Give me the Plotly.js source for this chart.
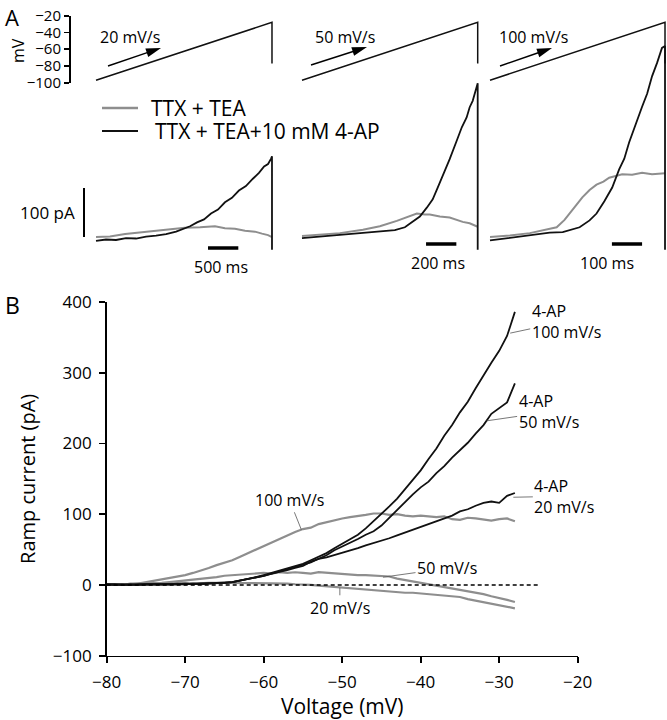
<!DOCTYPE html>
<html>
<head>
<meta charset="utf-8">
<script src="https://cdn.plot.ly/plotly-3.0.1.min.js"></script>
<style>body{margin:0;background:#fff}</style>
</head>
<body>
<div id="chart" style="width:667px;height:720px"></div>
<script>
// Panel B: ramp current (pA) against voltage (mV)
const voltage = [-80, -79, -78, -77, -76, -75, -74, -73, -72, -71, -70, -69, -68, -67, -66, -65, -64, -63, -62, -61,
  -60, -59, -58, -57, -56, -55, -54, -53, -52, -51, -50, -49, -48, -47, -46, -45, -44, -43, -42, -41,
  -40, -39, -38, -37, -36, -35, -34, -33, -32, -31, -30, -29, -28];
const tea100 = [0, 1, 0, 2, 2, 4, 5, 8, 9, 11, 14, 17, 20, 24, 28, 31, 35, 40, 45, 50,
  55, 60, 66, 70, 75, 79, 81, 86, 89, 92, 94, 96, 97, 99, 101, 101, 99, 100, 98, 97,
  98, 97, 96, 97, 93, 92, 95, 94, 93, 91, 93, 94, 90];
const tea50 = [0, 0, 1, 1, 2, 2, 3, 3, 4, 5, 6, 7, 9, 10, 11, 13, 14, 15, 16, 16,
  17, 16, 18, 17, 18, 17, 16, 18, 17, 16, 16, 15, 14, 14, 13, 12, 12, 9, 7, 5,
  3, 2, -1, -3, -4, -6, -8, -11, -13, -16, -18, -21, -24];
const tea20 = [0, 1, 0, 1, 1, 1, 2, 1, 2, 2, 3, 2, 3, 3, 3, 4, 3, 3, 3, 3,
  3, 2, 2, 2, 1, 1, 0, -1, -2, -2, -3, -4, -5, -6, -7, -8, -9, -10, -11, -11,
  -12, -12, -13, -15, -16, -17, -20, -22, -24, -27, -29, -31, -33];
const ap100 = [0, 1, 0, 0, 1, 0, 1, 1, 1, 1, 1, 2, 1, 2, 2, 3, 4, 6, 8, 11,
  14, 17, 20, 23, 27, 30, 35, 40, 45, 52, 58, 64, 71, 80, 90, 100, 111, 122, 135, 148,
  162, 178, 193, 211, 226, 244, 259, 278, 297, 314, 331, 352, 386];
const ap50 = [1, 0, 0, 1, 0, 1, 1, 0, 1, 1, 2, 1, 2, 2, 2, 3, 4, 6, 8, 11,
  13, 16, 19, 22, 25, 28, 32, 37, 42, 49, 54, 59, 65, 71, 76, 84, 95, 106, 118, 128,
  138, 146, 158, 168, 180, 191, 201, 214, 226, 242, 250, 258, 285];
const ap20 = [1, 0, 1, 0, 1, 1, 0, 1, 1, 2, 1, 2, 2, 2, 3, 3, 4, 6, 8, 11,
  13, 16, 18, 21, 24, 27, 33, 37, 39, 42, 45, 49, 52, 56, 59, 62, 66, 70, 74, 78,
  82, 85, 89, 93, 98, 104, 107, 112, 116, 118, 116, 126, 130];

// Panel A: command ramps (mV) and currents (pA) against time (ms)
const rampV = [-97, -28, -77];
const rampT20 = [0, 2900, 2900];
const rampT50 = [0, 1160, 1160];
const rampT100 = [0, 580, 580];

const t20black = [0, 165, 330, 495, 660, 825, 990, 1155, 1320, 1435, 1550, 1665, 1780, 1895, 2010, 2125, 2240, 2355, 2470, 2585, 2685, 2770, 2835, 2885, 2900, 2900];
const i20black = [-2, 1, 0, 4, 3, 7, 9, 12, 17, 22, 28, 36, 42, 54, 62, 77, 86, 101, 110, 125, 137, 150, 155, 166, 171, -20];
const t20gray = [0, 230, 480, 725, 970, 1220, 1465, 1715, 1960, 2125, 2290, 2455, 2620, 2735, 2835, 2900];
const i20gray = [6, 7, 12, 15, 19, 21, 25, 26, 28, 24, 23, 19, 17, 13, 10, 6];

const t50black = [0, 119, 250, 382, 514, 613, 679, 732, 778, 824, 863, 896, 929, 975, 1022, 1055, 1087, 1107, 1127, 1147, 1160, 1160];
const i50black = [4, 7, 11, 13, 17, 20, 26, 38, 48, 66, 83, 107, 131, 165, 203, 230, 250, 271, 284, 305, 320, -20];
const t50gray = [0, 119, 250, 402, 514, 626, 692, 758, 811, 844, 910, 975, 1061, 1107, 1160];
const i50gray = [8, 11, 14, 21, 28, 39, 46, 54, 52, 52, 48, 46, 37, 34, 27];

const t100black = [0, 66, 132, 198, 241, 270, 297, 330, 353, 379, 405, 428, 445, 461, 481, 504, 521, 537, 554, 570, 580, 580];
const i100black = [-1, 4, 9, 15, 16, 21, 26, 40, 54, 79, 107, 144, 166, 199, 234, 272, 299, 334, 362, 392, 396, -20];
const t100gray = [0, 66, 132, 181, 221, 247, 264, 287, 306, 330, 353, 376, 395, 418, 438, 471, 504, 537, 580];
const i100gray = [6, 9, 14, 20, 26, 41, 55, 72, 87, 102, 113, 119, 127, 130, 134, 133, 137, 134, 136];

const GRAY = '#8e8e8e';
const BLACK = '#111111';
const FONT = 'Open Sans, sans-serif';

// pixel -> paper helpers
const W = 667, H = 720;
function px(x) { return x / W; }
function py(y) { return (H - y) / H; }

function line(x, y, xa, ya, color, width) {
    return { x: x, y: y, xaxis: xa, yaxis: ya, mode: 'lines', hoverinfo: 'skip',
        line: { color: color, width: width } };
}

const data = [
    line(voltage, tea100, 'x', 'y', GRAY, 2.2),
    line(voltage, tea50, 'x', 'y', GRAY, 2.2),
    line(voltage, tea20, 'x', 'y', GRAY, 2.2),
    line(voltage, ap20, 'x', 'y', BLACK, 1.8),
    line(voltage, ap50, 'x', 'y', BLACK, 1.8),
    line(voltage, ap100, 'x', 'y', BLACK, 1.8),

    line(rampT20, rampV, 'x2', 'y2', BLACK, 1.5),
    line(rampT50, rampV, 'x3', 'y2', BLACK, 1.5),
    line(rampT100, rampV, 'x4', 'y2', BLACK, 1.5),

    line(t20gray, i20gray, 'x2', 'y3', GRAY, 2),
    line(t20black, i20black, 'x2', 'y3', BLACK, 1.8),
    line(t50gray, i50gray, 'x3', 'y3', GRAY, 2),
    line(t50black, i50black, 'x3', 'y3', BLACK, 1.8),
    line(t100gray, i100gray, 'x4', 'y3', GRAY, 2),
    line(t100black, i100black, 'x4', 'y3', BLACK, 1.8)
];

// arrow drawn as a line plus a filled triangle (pixel coords in, paper out)
function arrow(x0, y0, x1, y1) {
    const dx = x1 - x0, dy = y1 - y0, L = Math.hypot(dx, dy);
    const ux = dx / L, uy = dy / L, nx = -uy, ny = ux;
    const bx = x1 - ux * 15, by = y1 - uy * 15;
    return [
        { type: 'line', xref: 'paper', yref: 'paper', x0: px(x0), y0: py(y0), x1: px(bx + ux * 2), y1: py(by + uy * 2),
          line: { color: '#000', width: 1.4 } },
        { type: 'path', xref: 'paper', yref: 'paper', fillcolor: '#000', line: { width: 0 },
          path: 'M' + px(x1) + ',' + py(y1) + ' L' + px(bx + nx * 4.5) + ',' + py(by + ny * 4.5) +
                ' L' + px(bx - nx * 4.5) + ',' + py(by - ny * 4.5) + ' Z' }
    ];
}

const shapes = [
    // zero reference in B
    { type: 'line', xref: 'x', yref: 'y', x0: -80, x1: -25, y0: 0, y1: 0,
      line: { color: '#000', width: 1.5, dash: '4px,3px' } },
    // legend samples
    { type: 'line', xref: 'paper', yref: 'paper', x0: px(102), x1: px(138), y0: py(108), y1: py(108),
      line: { color: GRAY, width: 2.5 } },
    { type: 'line', xref: 'paper', yref: 'paper', x0: px(102), x1: px(138), y0: py(131), y1: py(131),
      line: { color: BLACK, width: 2.2 } },
    // 100 pA scale bar
    { type: 'line', xref: 'paper', yref: 'y3', x0: px(84), x1: px(84), y0: 6, y1: 106,
      line: { color: '#000', width: 2 } },
    // time scale bars
    { type: 'line', xref: 'x2', yref: 'paper', x0: 1845, x1: 2345, y0: py(248), y1: py(248),
      line: { color: '#000', width: 3.5 } },
    { type: 'line', xref: 'x3', yref: 'paper', x0: 819, x1: 1019, y0: py(244), y1: py(244),
      line: { color: '#000', width: 3.5 } },
    { type: 'line', xref: 'x4', yref: 'paper', x0: 404, x1: 504, y0: py(244), y1: py(244),
      line: { color: '#000', width: 3.5 } }
].concat(arrow(108, 66, 161, 48), arrow(311, 65, 367, 47), arrow(500, 66, 552, 48));

function txt(text, x, y, size, opts) {
    return Object.assign({ text: text, xref: 'paper', yref: 'paper', x: px(x), y: py(y),
        showarrow: false, xanchor: 'left', yanchor: 'middle',
        font: { family: FONT, size: size, color: '#000' } }, opts || {});
}

function label(text, v, i, ax, ay) {
    return { text: text, xref: 'x', yref: 'y', x: v, y: i, ax: ax, ay: ay, align: 'left',
        showarrow: true, arrowhead: 0, arrowwidth: 0.8, arrowcolor: '#555', standoff: 0,
        font: { family: FONT, size: 16, color: '#000' } };
}

const annotations = [
    txt('A', 3, 0, 22, { yanchor: 'top' }),
    txt('B', 3, 305, 23),
    txt('mV', 18, 51, 16, { xanchor: 'center', textangle: -90 }),
    txt('20 mV/s', 98, 37, 16),
    txt('50 mV/s', 313, 37, 16),
    txt('100 mV/s', 497, 37, 16),
    txt('TTX + TEA', 149, 108, 21),
    txt('TTX + TEA+10 mM 4-AP', 153, 131, 21),
    txt('100 pA', 77, 213, 17, { xanchor: 'right' }),
    { text: '500 ms', xref: 'x2', yref: 'paper', x: 2060, y: py(267), showarrow: false,
      font: { family: FONT, size: 16, color: '#000' } },
    { text: '200 ms', xref: 'x3', yref: 'paper', x: 895, y: py(263), showarrow: false,
      font: { family: FONT, size: 16, color: '#000' } },
    { text: '100 ms', xref: 'x4', yref: 'paper', x: 389, y: py(263), showarrow: false,
      font: { family: FONT, size: 16, color: '#000' } },

    label('100 mV/s', -55.2, 78, -12, -30),
    label('50 mV/s', -44.8, 11, 64, -9),
    label('20 mV/s', -50.3, -4, 0, 20),
    label('4-AP<br>100 mV/s', -28.6, 356, 56, -12),
    label('4-AP<br>50 mV/s', -31.6, 232, 62, -9),
    label('4-AP<br>20 mV/s', -28.2, 124, 51, -1)
];

const hidden = { visible: false, fixedrange: true };

const layout = {
    width: W,
    height: H,
    margin: { l: 0, r: 0, t: 0, b: 0 },
    paper_bgcolor: '#fff',
    plot_bgcolor: 'rgba(0,0,0,0)',
    showlegend: false,
    font: { family: FONT, color: '#000' },

    xaxis: {
        domain: [px(106.7), px(577.7)], range: [-80, -20], anchor: 'y',
        tickvals: [-80, -70, -60, -50, -40, -30, -20],
        showline: true, linecolor: '#000', linewidth: 1.6,
        ticks: 'outside', ticklen: 6, tickwidth: 1.6, tickcolor: '#000',
        ticklabelstandoff: 4,
        tickfont: { size: 17 }, showgrid: false, zeroline: false, automargin: false,
        title: { text: 'Voltage (mV)', font: { size: 21 }, standoff: 4 }
    },
    yaxis: {
        domain: [py(655.7), py(302)], range: [-100, 400], anchor: 'x',
        tickvals: [-100, 0, 100, 200, 300, 400],
        showline: true, linecolor: '#000', linewidth: 1.6,
        ticks: 'outside', ticklen: 6, tickwidth: 1.6, tickcolor: '#000',
        ticklabelstandoff: 4,
        tickfont: { size: 17 }, showgrid: false, zeroline: false, automargin: false,
        title: { text: 'Ramp current (pA)', font: { size: 20 }, standoff: 12 }
    },

    xaxis2: Object.assign({ domain: [px(92), px(276)], range: [-66, 2966], anchor: 'y3' }, hidden),
    xaxis3: Object.assign({ domain: [px(298), px(481.7)], range: [-26.4, 1186.4], anchor: 'y3' }, hidden),
    xaxis4: Object.assign({ domain: [px(486), 1], range: [-13.3, 586.6], anchor: 'y3' }, hidden),

    yaxis2: {
        domain: [py(82.7), py(15.7)], range: [-100, -20], anchor: 'free', position: px(69),
        tickvals: [-100, -80, -60, -40, -20],
        showline: true, linecolor: '#000', linewidth: 1.6,
        ticks: 'outside', ticklen: 5, tickwidth: 1.6, tickcolor: '#000',
        tickfont: { size: 15 }, showgrid: false, zeroline: false, automargin: false, fixedrange: true
    },
    yaxis3: Object.assign({ domain: [py(254), py(40)], range: [-28.6, 408.2], anchor: 'x2' }, hidden),

    shapes: shapes,
    annotations: annotations
};

Plotly.newPlot('chart', data, layout, { staticPlot: true, displayModeBar: false });
</script>
</body>
</html>
